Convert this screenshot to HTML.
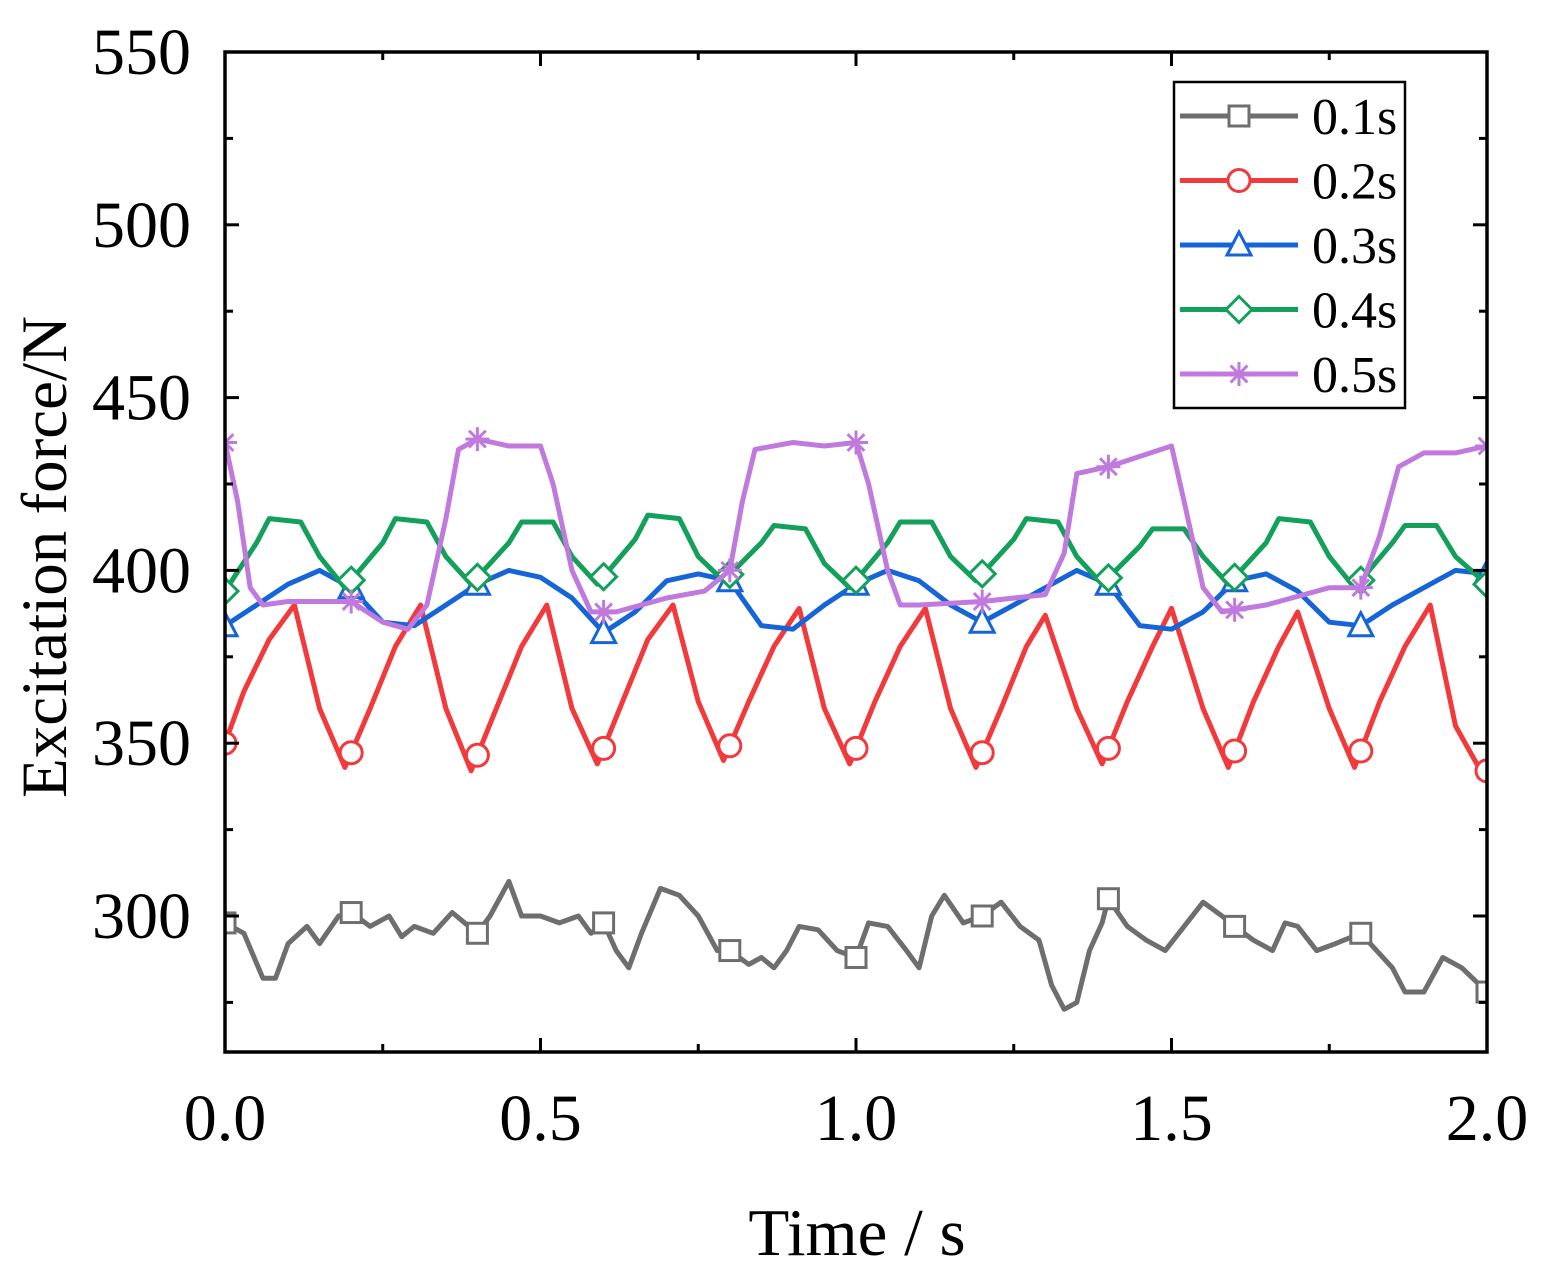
<!DOCTYPE html>
<html><head><meta charset="utf-8"><style>
body{margin:0;background:#fff}
svg{display:block;font-family:"Liberation Serif",serif}
</style></head><body>
<svg id="chart" width="1549" height="1269" viewBox="0 0 1549 1269" xmlns="http://www.w3.org/2000/svg">
<g id="plot"></g>
<text x="857" y="1255" font-size="67" text-anchor="middle">Time / s</text>
<text transform="translate(66,557) rotate(-90)" font-size="65" text-anchor="middle">Excitation force/N</text>
</svg>
<script>
const xTicks=[0,0.5,1.0,1.5,2.0];
const xTickLabels=["0.0","0.5","1.0","1.5","2.0"];
const yTicks=[300,350,400,450,500,550];
const seriesNames=["0.1s","0.2s","0.3s","0.4s","0.5s"];
const markerTimes=[0,0.2,0.4,0.6,0.8,1.0,1.2,1.4,1.6,1.8,2.0];
const grayT=[0,.03,.06,.08,.1,.13,.15,.18,.2,.23,.26,.28,.3,.33,.36,.38,.4,.42,.45,.47,.5,.53,.56,.58,.6,.62,.64,.66,.69,.72,.75,.78,.8,.83,.85,.87,.89,.91,.94,.97,1.0,1.02,1.05,1.08,1.1,1.12,1.14,1.17,1.2,1.23,1.26,1.29,1.31,1.33,1.35,1.37,1.39,1.4,1.43,1.46,1.49,1.52,1.55,1.58,1.6,1.63,1.66,1.68,1.7,1.73,1.76,1.8,1.82,1.85,1.87,1.9,1.93,1.96,2.0];
const grayV=[298,295,282,282,292,297,292,300,301,297,300,294,297,295,301,298,295,300,310,300,300,298,300,295,298,290,285,295,308,306,300,290,290,286,288,285,290,297,296,290,288,298,297,290,285,300,306,298,300,304,297,293,280,273,275,290,298,305,297,293,290,297,304,300,297,293,290,298,297,290,292,295,291,285,278,278,288,285,278];
const redT=[0,.03,.07,.11,.15,.19,.23,.27,.31,.35,.39,.43,.47,.51,.55,.59,.63,.67,.71,.75,.79,.83,.87,.91,.95,.99,1.03,1.07,1.11,1.15,1.19,1.23,1.27,1.3,1.35,1.39,1.43,1.47,1.5,1.55,1.59,1.63,1.67,1.7,1.75,1.79,1.83,1.87,1.91,1.95,1.99,2.0];
const redV=[350,365,380,390,360,343,360,378,390,360,342,360,378,390,360,344,362,380,390,362,345,362,378,389,360,344,362,378,389,360,343,360,378,387,360,344,362,378,389,360,343,362,378,388,360,343,362,378,390,355,342,342];
const blueT=[0,.05,.1,.15,.2,.25,.3,.35,.4,.45,.5,.55,.6,.65,.7,.75,.8,.85,.9,.95,1.0,1.05,1.1,1.15,1.2,1.25,1.3,1.35,1.4,1.45,1.5,1.55,1.6,1.65,1.7,1.75,1.8,1.85,1.9,1.95,2.0];
const blueV=[384,390,396,400,395,385,384,390,396,400,398,392,382,388,397,399,397,384,383,390,396,400,397,390,385,390,395,400,396,384,383,388,397,399,394,385,384,390,395,400,399];
const greenT=[0,.05,.07,.12,.15,.19,.25,.27,.32,.35,.39,.45,.47,.52,.55,.59,.65,.67,.72,.75,.79,.85,.87,.92,.95,.99,1.05,1.07,1.12,1.15,1.19,1.25,1.27,1.32,1.35,1.39,1.45,1.47,1.52,1.55,1.59,1.65,1.67,1.72,1.75,1.79,1.85,1.87,1.92,1.95,2.0];
const greenV=[394,408,415,414,404,395,408,415,414,404,396,408,414,414,404,396,409,416,415,404,397,408,413,412,402,395,408,414,414,404,397,409,415,414,404,396,407,412,412,404,396,408,415,414,404,395,408,413,413,404,396];
const purpleT=[0,.02,.04,.06,.1,.2,.25,.29,.32,.35,.37,.4,.45,.5,.52,.55,.58,.62,.7,.76,.8,.82,.84,.9,.95,1.0,1.02,1.05,1.07,1.1,1.2,1.3,1.33,1.35,1.4,1.45,1.5,1.52,1.55,1.58,1.65,1.75,1.8,1.83,1.86,1.9,1.95,2.0];
const purpleV=[437,420,395,390,391,391,385,383,390,415,435,438,436,436,425,400,388,388,392,394,400,420,435,437,436,437,425,400,390,390,391,393,405,428,430,433,436,420,395,388,390,395,395,410,430,434,434,436];
const colors=["#6e6e6e","#f2393c","#1565d8","#12a05a","#c07ade"];
const L=225,R=1487,T=52,B=1052;
const X=t=>L+(t/2)*(R-L);
const Y=v=>T+(550-v)*(916-52)/250;
const NS="http://www.w3.org/2000/svg";
const plot=document.getElementById('plot');
function mk(tag,attrs,parent){const e=document.createElementNS(NS,tag);for(const k in attrs)e.setAttribute(k,attrs[k]);(parent||plot).appendChild(e);return e;}
function interp(ts,vs,t){for(let i=0;i<ts.length-1;i++){if(t>=ts[i]&&t<=ts[i+1]){const f=(t-ts[i])/(ts[i+1]-ts[i]);return vs[i]+f*(vs[i+1]-vs[i]);}}return vs[vs.length-1];}
function marker(kind,cx,cy,col,g){
 const s=11;
 if(kind==0){return mk('rect',{x:cx-s+1,y:cy-s+1,width:2*s-2,height:2*s-2,fill:'#fff',stroke:col,'stroke-width':3},g);}
 if(kind==1){return mk('circle',{cx:cx,cy:cy,r:s,fill:'#fff',stroke:col,'stroke-width':3},g);}
 if(kind==2){return mk('polygon',{points:`${cx},${cy-s-2} ${cx-s-1},${cy+s-1} ${cx+s+1},${cy+s-1}`,fill:'#fff',stroke:col,'stroke-width':3},g);}
 if(kind==3){return mk('polygon',{points:`${cx},${cy-s-2} ${cx+s+2},${cy} ${cx},${cy+s+2} ${cx-s-2},${cy}`,fill:'#fff',stroke:col,'stroke-width':3},g);}
 const d=s+1;return mk('path',{d:`M${cx-d},${cy}H${cx+d}M${cx},${cy-d}V${cy+d}M${cx-d*0.7},${cy-d*0.7}L${cx+d*0.7},${cy+d*0.7}M${cx-d*0.7},${cy+d*0.7}L${cx+d*0.7},${cy-d*0.7}`,fill:'none',stroke:col,'stroke-width':3},g);
}
const clip=mk('clipPath',{id:'pc'});mk('rect',{x:L,y:T,width:R-L,height:B-T},clip);
const data=[[grayT,grayV],[redT,redV],[blueT,blueV],[greenT,greenV],[purpleT,purpleV]];
data.forEach((sd,i)=>{
 const g=mk('g',{'clip-path':'url(#pc)'});
 
 
 const d=sd[0].map((t,j)=>(j?'L':'M')+X(t).toFixed(1)+','+Y(sd[1][j]).toFixed(1)).join('');
 const p=mk('path',{d:d,fill:'none',stroke:colors[i],'stroke-width':5,'stroke-linejoin':'round'},g);
 
 
 markerTimes.forEach(t=>{
  const m=marker(i,X(t),Y(interp(sd[0],sd[1],t)),colors[i],g);
  
  
 });
});
const fr=mk('rect',{x:L,y:T,width:R-L,height:B-T,fill:'none',stroke:'#000','stroke-width':3.5});


for(let t=0;t<=2.0001;t+=0.25){
 const major=Math.abs(t*2-Math.round(t*2))<1e-6;const len=major?14:8;
 mk('line',{x1:X(t),x2:X(t),y1:B,y2:B-len,stroke:'#000','stroke-width':3});
 mk('line',{x1:X(t),x2:X(t),y1:T,y2:T+len,stroke:'#000','stroke-width':3});
}
xTicks.forEach((t,i)=>{
 const e=mk('text',{x:X(t),y:B+88,'font-size':66,'text-anchor':'middle'});e.textContent=xTickLabels[i];
 
 
});
for(let v=275;v<=550;v+=25){
 const major=v%50==0;const len=major?14:8;
 mk('line',{x1:L,x2:L+len,y1:Y(v),y2:Y(v),stroke:'#000','stroke-width':3});
 mk('line',{x1:R,x2:R-len,y1:Y(v),y2:Y(v),stroke:'#000','stroke-width':3});
}
yTicks.forEach(v=>{
 const e=mk('text',{x:L-34,y:Y(v)+22,'font-size':66,'text-anchor':'end'});e.textContent=v;
 
 
});
const lg=mk('g',{});


mk('rect',{x:1174,y:82,width:231,height:326,fill:'#fff',stroke:'#000','stroke-width':2.5},lg);
seriesNames.forEach((n,i)=>{
 const y=116+i*64.5;
 const en=mk('g',{},lg);
 
 
 mk('line',{x1:1180,x2:1298,y1:y,y2:y,stroke:colors[i],'stroke-width':5},en);
 marker(i,1239,y,colors[i],en);
 const t=mk('text',{x:1312,y:y+18,'font-size':52},en);t.textContent=n;
});
</script>
</body></html>
